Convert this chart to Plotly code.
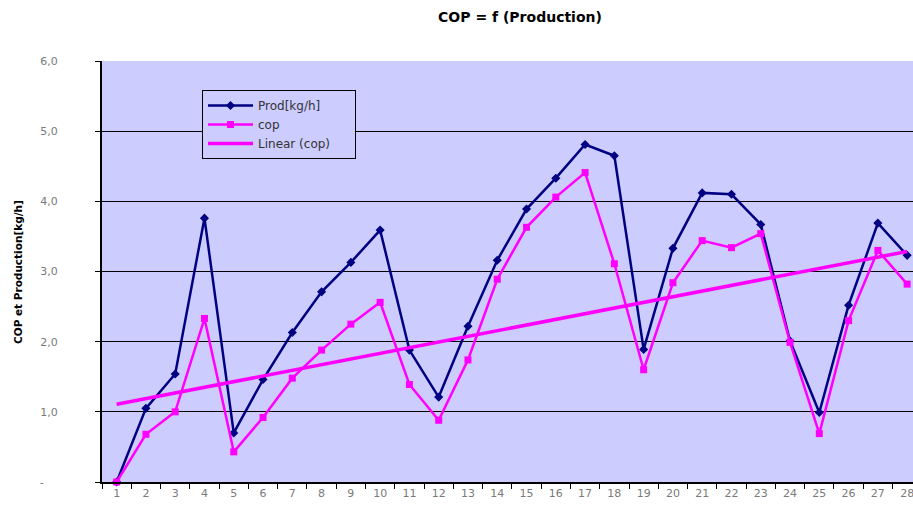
import numpy as np
import plotly.graph_objects as go

categories = [str(i) for i in range(1, 29)]
prod = [0.0, 1.05, 1.54, 3.76, 0.70, 1.46, 2.13, 2.71, 3.13, 3.59,
        1.88, 1.21, 2.22, 3.16, 3.89, 4.33, 4.81, 4.65, 1.89, 3.33,
        4.12, 4.10, 3.67, 2.01, 0.99, 2.52, 3.69, 3.23]
cop = [0.0, 0.68, 1.00, 2.33, 0.43, 0.92, 1.48, 1.88, 2.25, 2.56,
       1.39, 0.88, 1.74, 2.89, 3.63, 4.06, 4.41, 3.11, 1.60, 2.84,
       3.44, 3.34, 3.54, 1.99, 0.69, 2.30, 3.30, 2.82]
series_names = ["Prod[kg/h]", "cop", "Linear (cop)"]
ytick_vals = [0, 1, 2, 3, 4, 5, 6]
ytick_text = ["-\u00a0\u00a0\u00a0\u00a0", "1,0", "2,0", "3,0", "4,0", "5,0", "6,0"]

# Linear trendline of cop (least squares, as in the spreadsheet)
xs = np.arange(1, len(cop) + 1)
slope, intercept = np.polyfit(xs, cop, 1)
trend = (slope * xs + intercept).tolist()

FONT = "DejaVu Sans"
GREY = "#7a7a7a"
PAD = "\u00a0" * 5  # widens the legend box like the reference

fig = go.Figure()
fig.add_trace(go.Scatter(
    x=categories, y=prod, name=series_names[0], mode="lines+markers",
    line=dict(color="#000080", width=2.5),
    marker=dict(symbol="diamond", size=7, color="#000080"),
    cliponaxis=False,
))
fig.add_trace(go.Scatter(
    x=categories, y=cop, name=series_names[1], mode="lines+markers",
    line=dict(color="#FF00FF", width=2.5),
    marker=dict(symbol="square", size=7, color="#FF00FF"),
    cliponaxis=False,
))
fig.add_trace(go.Scatter(
    x=categories, y=trend, name=series_names[2] + PAD, mode="lines",
    line=dict(color="#FF00FF", width=3.5),
    cliponaxis=False,
))

fig.update_layout(
    width=913, height=505,
    margin=dict(l=102, r=0, t=61, b=23),
    paper_bgcolor="white",
    plot_bgcolor="#CCCCFF",
    font=dict(family=FONT, size=11, color=GREY),
    title=dict(text="<b>COP = f (Production)</b>", x=520 / 913, xanchor="center",
               y=1 - 17 / 505, yanchor="middle",
               font=dict(family=FONT, size=14, color="black")),
    showlegend=True,
    legend=dict(
        x=(202 - 102) / 811, y=(482 - 90) / 421, xanchor="left", yanchor="top",
        bgcolor="#CCCCFF", bordercolor="black", borderwidth=1,
        font=dict(family=FONT, size=12, color="#333333"),
        tracegroupgap=0, itemwidth=45,
    ),
    xaxis=dict(
        type="category", range=[-0.5, 27.2], tickson="boundaries",
        ticks="outside", ticklen=5, tickcolor="black", tickwidth=1,
        showline=True, linecolor="black", linewidth=2,
        showgrid=False, zeroline=False, automargin=False,
        tickfont=dict(family=FONT, size=11, color=GREY),
    ),
    yaxis=dict(
        range=[0, 6], tickvals=ytick_vals, ticktext=ytick_text,
        ticks="outside", ticklen=5, tickcolor="black", tickwidth=1,
        ticklabelstandoff=35,
        showline=True, linecolor="black", linewidth=2,
        showgrid=True, gridcolor="black", gridwidth=1,
        zeroline=False, automargin=False,
        tickfont=dict(family=FONT, size=11, color=GREY),
    ),
    annotations=[dict(
        text="<b>COP et Production[kg/h]</b>", xref="paper", yref="paper",
        x=(18 - 102) / 811, y=(482 - 272) / 421, xanchor="center", yanchor="middle",
        textangle=-90, showarrow=False,
        font=dict(family=FONT, size=10.5, color="black"),
    )],
)

fig.write_html(
    "out.html",
    config={"displayModeBar": False},
    post_script="document.body.style.margin='0';document.body.style.overflow='hidden';",
)
